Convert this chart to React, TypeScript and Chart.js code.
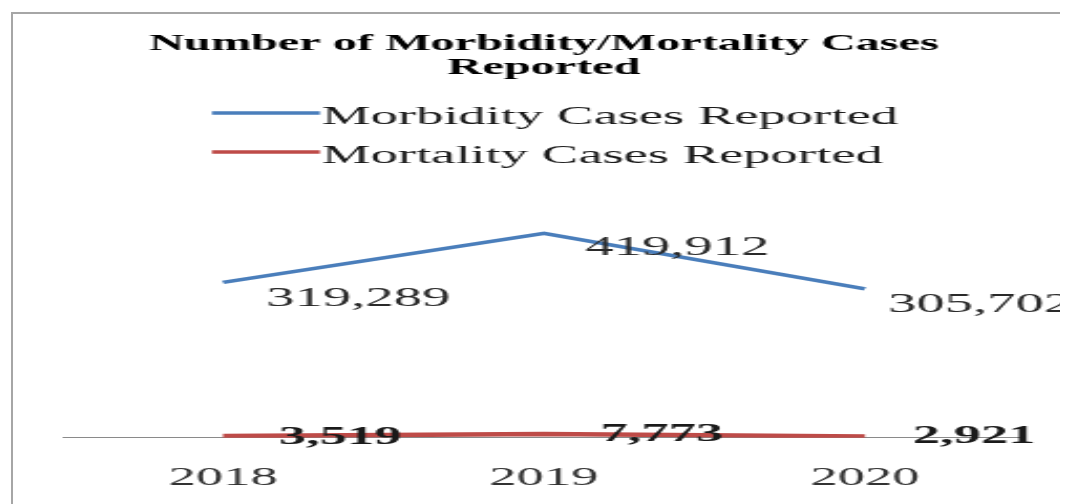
import React, { useEffect, useRef } from "react";
import { Chart, registerables } from "chart.js";

Chart.register(...registerables);

const years = ["2018", "2019", "2020"];
const morbidity = [319289, 419912, 305702];
const mortality = [3519, 7773, 2921];
const titleLines = ["Number of Morbidity/Mortality Cases", "Reported"];
const seriesNames = ["Morbidity Cases Reported", "Mortality Cases Reported"];

// label offsets (styling) relative to each point, in canvas units
const labelOffsets = [
  [[64.3, 16.5], [63.4, 15], [54.8, 15.5]],
  [[55.7, 1], [56.2, 0], [51.9, 0]],
];

const SERIF = "'Liberation Serif', 'Times New Roman', serif";

const labelsPlugin = {
  id: "pointLabels",
  afterDatasetsDraw(chart: any) {
    const ctx = chart.ctx;
    ctx.save();
    ctx.textAlign = "center";
    ctx.textBaseline = "middle";
    chart.data.datasets.forEach((ds: any, i: number) => {
      const meta = chart.getDatasetMeta(i);
      ctx.font = i === 0 ? `normal 27px ${SERIF}` : `bold 26px ${SERIF}`;
      ctx.fillStyle = i === 0 ? "#2a2a2a" : "#1a1a1a";
      meta.data.forEach((pt: any, j: number) => {
        const [dx, dy] = labelOffsets[i][j];
        ctx.fillText(Number(ds.data[j]).toLocaleString("en-US"), pt.x + dx, pt.y + dy);
      });
    });
    ctx.restore();
  },
};

const legendPlugin = {
  id: "stackedLegend",
  afterDraw(chart: any) {
    const ctx = chart.ctx;
    ctx.save();
    const rows = [
      { lineY: 105, baseY: 116 },
      { lineY: 144, baseY: 155 },
    ];
    chart.data.datasets.forEach((ds: any, i: number) => {
      const r = rows[i];
      ctx.strokeStyle = ds.borderColor;
      ctx.lineWidth = 3.5;
      ctx.beginPath();
      ctx.moveTo(97.2, r.lineY);
      ctx.lineTo(148.6, r.lineY);
      ctx.stroke();
      ctx.font = `normal 26px ${SERIF}`;
      ctx.fillStyle = "#1a1a1a";
      ctx.textAlign = "left";
      ctx.textBaseline = "alphabetic";
      ctx.fillText(ds.label, 149.6, r.baseY);
    });
    ctx.restore();
  },
};

export default function App() {
  const ref = useRef<HTMLCanvasElement>(null);
  useEffect(() => {
    if (!ref.current) return;
    const chart = new Chart(ref.current, {
      type: "line",
      data: {
        labels: years,
        datasets: [
          {
            label: seriesNames[0],
            data: morbidity,
            borderColor: "#4a7ebb",
            borderWidth: 3.5,
            pointRadius: 0,
            tension: 0,
            fill: false,
          },
          {
            label: seriesNames[1],
            data: mortality,
            borderColor: "#be4b48",
            borderWidth: 4.5,
            pointRadius: 0,
            tension: 0,
            fill: false,
          },
        ],
      },
      options: {
        responsive: false,
        devicePixelRatio: 1,
        animation: false,
        layout: { padding: { left: 26, right: 20.3, top: 0, bottom: 10 } },
        plugins: {
          legend: { display: false },
          tooltip: { enabled: false },
          title: {
            display: true,
            text: titleLines,
            color: "#000",
            font: { family: SERIF, size: 23, weight: "bold", lineHeight: 1.05 },
            padding: { top: 24, bottom: 114 },
          },
        },
        scales: {
          x: {
            type: "category",
            offset: true,
            grid: { display: false, drawTicks: true, tickLength: 25 },
            border: { display: true, color: "#8a8a8a", width: 1 },
            ticks: {
              color: "#333",
              font: { family: SERIF, size: 26, lineHeight: 1.2 },
              padding: 0,
              maxRotation: 0,
              autoSkip: false,
            },
          },
          y: {
            display: false,
            min: 0,
            max: 500000,
          },
        },
      },
      plugins: [labelsPlugin, legendPlugin],
    });
    return () => chart.destroy();
  }, []);

  return (
    <div style={{ position: "relative", width: 1060, height: 496, overflow: "hidden", background: "#fff" }}>
      <div
        style={{
          position: "absolute",
          left: 3,
          top: 4,
          width: 1056,
          height: 600,
          boxSizing: "border-box",
          border: "2px solid #a6a6a6",
        }}
      />
      <canvas
        ref={ref}
        width={505}
        height={496}
        style={{ position: "absolute", left: 0, top: 0, width: 1060, height: 496 }}
      />
    </div>
  );
}
